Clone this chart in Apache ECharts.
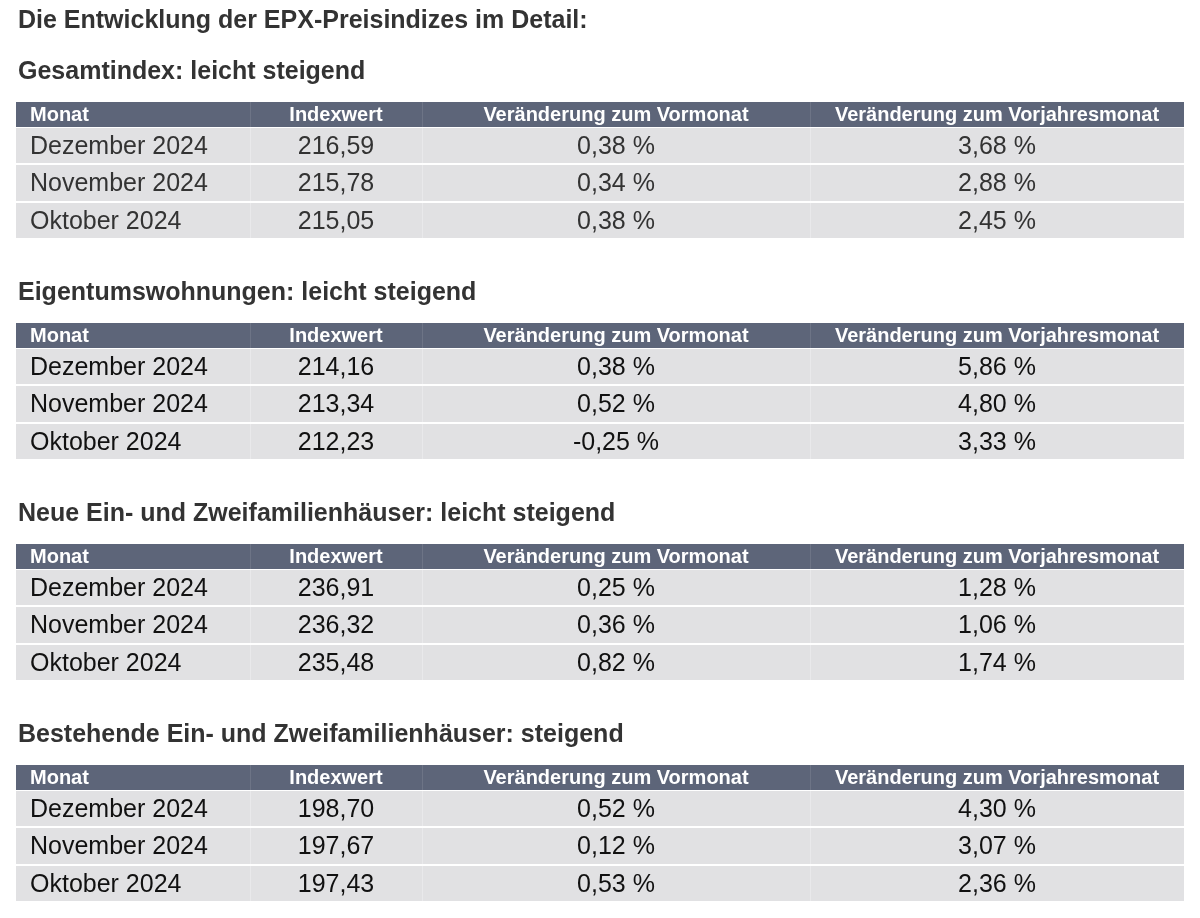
<!DOCTYPE html>
<html>
<head>
<meta charset="utf-8">
<script src="https://cdn.jsdelivr.net/npm/echarts@6/dist/echarts.min.js"></script>
<style>html,body{margin:0;padding:0;background:#ffffff}#c{width:1200px;height:918px}</style>
</head>
<body>
<div id="c"></div>
<script>
// ---------- data ----------
const pageTitle = 'Die Entwicklung der EPX-Preisindizes im Detail:';
const sectionTitles = [
  'Gesamtindex: leicht steigend',
  'Eigentumswohnungen: leicht steigend',
  'Neue Ein- und Zweifamilienhäuser: leicht steigend',
  'Bestehende Ein- und Zweifamilienhäuser: steigend'
];
const columns = ['Monat', 'Indexwert', 'Veränderung zum Vormonat', 'Veränderung zum Vorjahresmonat'];
const months = ['Dezember 2024', 'November 2024', 'Oktober 2024'];

const indexGesamt = [216.59, 215.78, 215.05];
const vormonatGesamt = [0.38, 0.34, 0.38];
const vorjahrGesamt = [3.68, 2.88, 2.45];

const indexWohnungen = [214.16, 213.34, 212.23];
const vormonatWohnungen = [0.38, 0.52, -0.25];
const vorjahrWohnungen = [5.86, 4.80, 3.33];

const indexNeueHaeuser = [236.91, 236.32, 235.48];
const vormonatNeueHaeuser = [0.25, 0.36, 0.82];
const vorjahrNeueHaeuser = [1.28, 1.06, 1.74];

const indexBestHaeuser = [198.70, 197.67, 197.43];
const vormonatBestHaeuser = [0.52, 0.12, 0.53];
const vorjahrBestHaeuser = [4.30, 3.07, 2.36];

// ---------- layout (not data) ----------
const tableSets = [
  [indexGesamt, vormonatGesamt, vorjahrGesamt],
  [indexWohnungen, vormonatWohnungen, vorjahrWohnungen],
  [indexNeueHaeuser, vormonatNeueHaeuser, vorjahrNeueHaeuser],
  [indexBestHaeuser, vormonatBestHaeuser, vorjahrBestHaeuser]
];
const colEdges = [0, 234, 406, 794, 1168];
const rowEdges = [[0, 25], [26, 61], [63, 99], [101, 136]];
const tableLeft = 16, tableWidth = 1168, tableHeight = 136;
const tableTop0 = 102, tableStep = 221;
const sectionCenter0 = 72, pageTitleCenter = 21.5;
const FONT = "'Liberation Sans', Arial, Helvetica, sans-serif";
const headColor = '#5d6579', rowColor = '#e1e1e3';
const bodyTextColors = ['#333333', '#111111', '#111111', '#111111'];

const fmt = v => v.toFixed(2).replace('.', ',');
const pct = v => fmt(v) + ' %';

function buildCells(set) {
  const cells = [];
  columns.forEach((c, ci) => cells.push({ c: ci, r: 0, text: c }));
  months.forEach((m, ri) => {
    cells.push({ c: 0, r: ri + 1, text: m });
    cells.push({ c: 1, r: ri + 1, text: fmt(set[0][ri]) });
    cells.push({ c: 2, r: ri + 1, text: pct(set[1][ri]) });
    cells.push({ c: 3, r: ri + 1, text: pct(set[2][ri]) });
  });
  return cells;
}

const grids = [], xAxes = [], yAxes = [], series = [];
const titles = [{
  text: pageTitle, left: 18, top: pageTitleCenter - 14, padding: 0,
  textStyle: { fontFamily: FONT, fontSize: 25, fontWeight: 'bold', color: '#333333', lineHeight: 28 }
}];

tableSets.forEach((set, ti) => {
  const top = tableTop0 + ti * tableStep;
  grids.push({ left: tableLeft, top: top, width: tableWidth, height: tableHeight, containLabel: false });
  xAxes.push({ type: 'value', gridIndex: ti, min: 0, max: tableWidth, show: false });
  yAxes.push({ type: 'value', gridIndex: ti, min: 0, max: tableHeight, inverse: true, show: false });
  titles.push({
    text: sectionTitles[ti], left: 18, top: sectionCenter0 + ti * tableStep - 14, padding: 0,
    textStyle: { fontFamily: FONT, fontSize: 25, fontWeight: 'bold', color: '#333333', lineHeight: 28 }
  });
  const cells = buildCells(set);
  series.push({
    type: 'custom',
    xAxisIndex: ti, yAxisIndex: ti,
    silent: true,
    data: cells.map(d => [d.c, d.r]),
    renderItem: function (params, api) {
      const c = api.value(0), r = api.value(1);
      const p0 = api.coord([colEdges[c], rowEdges[r][0]]);
      const p1 = api.coord([colEdges[c + 1], rowEdges[r][1]]);
      const x = p0[0], y = p0[1], w = p1[0] - p0[0], h = p1[1] - p0[1];
      const head = r === 0;
      const cell = cells[params.dataIndex];
      const children = [{
        type: 'rect', shape: { x: x, y: y, width: w, height: h },
        style: { fill: head ? headColor : rowColor }
      }];
      if (c > 0) {
        children.push({
          type: 'rect', shape: { x: x, y: y, width: 1, height: h },
          style: { fill: head ? '#6d7486' : '#e9e9eb' }
        });
      }
      children.push({
        type: 'text',
        style: {
          text: cell.text,
          x: c === 0 ? x + 14 : x + w / 2,
          y: y + h / 2 + (head ? 0.5 : 1.5),
          align: c === 0 ? 'left' : 'center',
          verticalAlign: 'middle',
          fill: head ? '#ffffff' : bodyTextColors[ti],
          font: (head ? 'bold 20px ' : '25px ') + FONT
        }
      });
      return { type: 'group', children: children };
    }
  });
});

const chart = echarts.init(document.getElementById('c'), null, { renderer: 'canvas' });
chart.setOption({
  backgroundColor: '#ffffff',
  animation: false,
  title: titles,
  grid: grids,
  xAxis: xAxes,
  yAxis: yAxes,
  series: series
});
</script>
</body>
</html>
